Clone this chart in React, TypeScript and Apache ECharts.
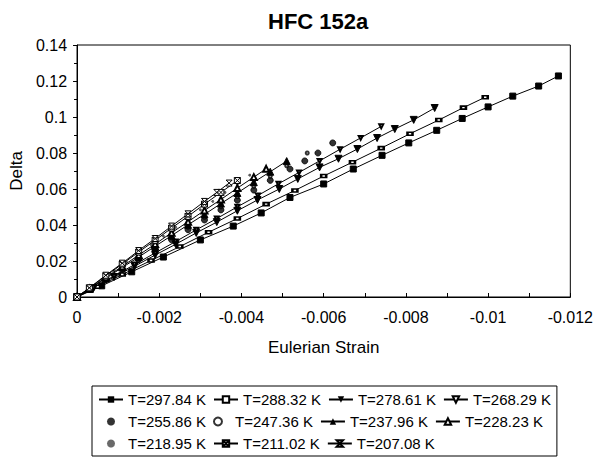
import React, { useEffect, useRef } from "react";
import * as echarts from "echarts";

const FONT = "'Liberation Sans', Arial, sans-serif";

const seriesNames = [
  "T=297.84 K", "T=288.32 K", "T=278.61 K", "T=268.29 K",
  "T=255.86 K", "T=247.36 K", "T=237.96 K", "T=228.23 K",
  "T=218.95 K", "T=211.02 K", "T=207.08 K",
];

const xTicks = [0, -0.002, -0.004, -0.006, -0.008, -0.01, -0.012];
const yTicks = [0, 0.02, 0.04, 0.06, 0.08, 0.1, 0.12, 0.14];

// [Eulerian strain, Delta]
const s297 = [
  [0, 0], [-0.0006, 0.0062], [-0.00133, 0.014], [-0.0021, 0.0222], [-0.003, 0.0317],
  [-0.0038, 0.0394], [-0.00448, 0.0467], [-0.00518, 0.0553], [-0.006, 0.0628],
  [-0.00672, 0.0711], [-0.00742, 0.0787], [-0.00807, 0.0856], [-0.00875, 0.0926],
  [-0.00937, 0.0992], [-0.01, 0.1056], [-0.0106, 0.1116], [-0.01123, 0.1172], [-0.01171, 0.1228],
];
const s288 = [
  [0, 0], [-0.0005, 0.0057], [-0.0011, 0.0125], [-0.0018, 0.0203], [-0.0025, 0.028],
  [-0.0032, 0.036], [-0.0039, 0.0436], [-0.0046, 0.0516], [-0.0053, 0.0592],
  [-0.006, 0.0672], [-0.0067, 0.0749], [-0.0074, 0.0827], [-0.0081, 0.0907],
  [-0.0088, 0.0983], [-0.0094, 0.1052], [-0.00993, 0.111],
];
const s278 = [
  [0, 0], [-0.0004, 0.0049], [-0.0009, 0.0111], [-0.0014, 0.0171], [-0.0019, 0.0233],
  [-0.0024, 0.0293], [-0.0029, 0.0356], [-0.0034, 0.0416], [-0.0039, 0.0479],
  [-0.00439, 0.0539], [-0.00492, 0.06], [-0.00537, 0.0656], [-0.0059, 0.072],
  [-0.00636, 0.0768], [-0.00682, 0.0822], [-0.0073, 0.0883], [-0.00773, 0.0933],
  [-0.00819, 0.0984], [-0.0087, 0.105],
];
const s268 = [
  [0, 0], [-0.0004, 0.0052], [-0.0009, 0.0117], [-0.0014, 0.018], [-0.0019, 0.0245],
  [-0.0024, 0.0308], [-0.0029, 0.0373], [-0.0034, 0.0436], [-0.0039, 0.0501],
  [-0.0044, 0.0564], [-0.0049, 0.0629], [-0.0054, 0.0692], [-0.0059, 0.0756],
  [-0.0064, 0.0821], [-0.0069, 0.0884], [-0.0074, 0.0948],
];
const s255 = [
  [0, 0], [-0.0003, 0.0042], [-0.0007, 0.0097], [-0.0011, 0.0153], [-0.0015, 0.0208],
  [-0.0019, 0.0264], [-0.0023, 0.0318], [-0.0027, 0.0374], [-0.0031, 0.0428],
  [-0.0035, 0.0484], [-0.0039, 0.0538], [-0.0043, 0.0594], [-0.0047, 0.0648],
  [-0.00518, 0.0711], [-0.00554, 0.0756], [-0.00586, 0.08], [-0.00622, 0.0856],
];
const s247 = [
  [0, 0], [-0.0003, 0.0043], [-0.0007, 0.01], [-0.0011, 0.0158], [-0.0015, 0.0214],
  [-0.0019, 0.0272], [-0.0023, 0.0329], [-0.0027, 0.0387], [-0.0031, 0.0443],
  [-0.0035, 0.0501], [-0.0039, 0.0557], [-0.0043, 0.0615], [-0.0047, 0.0671],
  [-0.0051, 0.0729], [-0.0056, 0.08],
];
const s237 = [
  [0, 0], [-0.0003, 0.0045], [-0.0007, 0.0104], [-0.0011, 0.0164], [-0.0015, 0.0222],
  [-0.0019, 0.0282], [-0.0023, 0.0341], [-0.0027, 0.0401], [-0.0031, 0.0459],
  [-0.0035, 0.0519], [-0.0039, 0.0578], [-0.0043, 0.0638], [-0.0047, 0.0696], [-0.0051, 0.0755],
];
const s228 = [
  [0, 0], [-0.0003, 0.0046], [-0.0007, 0.0109], [-0.0011, 0.017], [-0.0015, 0.0233],
  [-0.0019, 0.0294], [-0.0023, 0.0357], [-0.0027, 0.0418], [-0.0031, 0.0481],
  [-0.0035, 0.0542], [-0.0039, 0.0605], [-0.0043, 0.0666], [-0.0046, 0.0712],
];
const s218 = [
  [0, 0], [-0.0003, 0.0048], [-0.0006, 0.0098], [-0.0009, 0.0145], [-0.0012, 0.0194],
  [-0.0015, 0.0242], [-0.0018, 0.0291], [-0.0021, 0.0338], [-0.0024, 0.0387],
  [-0.0027, 0.0435], [-0.003, 0.0484], [-0.0033, 0.0531], [-0.0036, 0.0581],
  [-0.0039, 0.0628], [-0.0042, 0.0677],
];
const s211 = [
  [0, 0], [-0.0003, 0.005], [-0.0007, 0.0117], [-0.0011, 0.0183], [-0.0015, 0.025],
  [-0.0019, 0.0315], [-0.0023, 0.0383], [-0.0027, 0.0448], [-0.0031, 0.0516],
  [-0.0035, 0.0581], [-0.0039, 0.0647],
];
const s207 = [
  [0, 0], [-0.0003, 0.0051], [-0.0007, 0.0121], [-0.0011, 0.0188], [-0.0015, 0.0258],
  [-0.0019, 0.0325], [-0.0023, 0.0394], [-0.0027, 0.0462], [-0.0031, 0.0531],
  [-0.0034, 0.0581], [-0.0037, 0.0633],
];

const seriesData = [s297, s288, s278, s268, s255, s247, s237, s228, s218, s211, s207];

const BOX_X = "path://M0,0H10V10H0Z M0,0L10,10 M10,0L0,10";
const HOURGLASS = "path://M0,0H10L0,10H10Z";

type Style = { type: string; symbol: string; size: any; rotate?: number; hollow?: boolean; color?: string };
const styles: Style[] = [
  { type: "line", symbol: "rect", size: 6 },
  { type: "line", symbol: "emptyRect", size: [5, 3] },
  { type: "line", symbol: "triangle", size: 7, rotate: 180 },
  { type: "line", symbol: "emptyTriangle", size: 4, rotate: 180 },
  { type: "scatter", symbol: "circle", size: 6 },
  { type: "scatter", symbol: "emptyCircle", size: 3 },
  { type: "line", symbol: "triangle", size: 7 },
  { type: "line", symbol: "emptyTriangle", size: 6 },
  { type: "scatter", symbol: "circle", size: 2, color: "#444" },
  { type: "line", symbol: BOX_X, size: 6, hollow: true },
  { type: "line", symbol: HOURGLASS, size: 6, hollow: true },
];

export default function App() {
  const ref = useRef<HTMLDivElement>(null);
  useEffect(() => {
    if (!ref.current) return;
    const chart = echarts.init(ref.current, undefined, { renderer: "svg" });
    const series = seriesNames.map((name, i) => {
      const st = styles[i];
      const color = st.color || "#000";
      const s: any = {
        name,
        type: st.type,
        data: seriesData[i],
        symbol: st.symbol,
        symbolSize: st.size,
        symbolRotate: st.rotate || 0,
        itemStyle: st.hollow
          ? { color: "#fff", borderColor: "#000", borderWidth: 1 }
          : { color, borderColor: color },
      };
      if (st.type === "line") {
        s.showSymbol = true;
        s.lineStyle = { color: "#000", width: 1 };
        s.emphasis = { disabled: true };
      }
      return s;
    });
    chart.setOption({
      animation: false,
      backgroundColor: "#fff",
      title: {
        text: "HFC 152a",
        left: 263,
        top: 5,
        textStyle: { fontFamily: FONT, fontSize: 22, fontWeight: "bold", color: "#000" },
      },
      grid: {
        left: 75, right: 23, top: 45, bottom: 165,
        show: true, borderColor: "#000", borderWidth: 1,
      },
      legend: {
        data: seriesNames,
        left: 92,
        top: 386,
        width: 470,
        padding: [6, 6, 5, 6],
        itemWidth: 24,
        itemHeight: 8,
        itemGap: 7,
        borderColor: "#000",
        borderWidth: 1,
        textStyle: { fontFamily: FONT, fontSize: 15, color: "#000" },
      },
      xAxis: {
        type: "value",
        min: xTicks[xTicks.length - 1],
        max: xTicks[0],
        interval: 0.001,
        inverse: true,
        name: "Eulerian Strain",
        nameLocation: "middle",
        nameGap: 42,
        nameTextStyle: { fontFamily: FONT, fontSize: 17, color: "#000" },
        axisLine: { lineStyle: { color: "#000", width: 1 } },
        axisTick: { inside: true, length: 4, lineStyle: { color: "#000" } },
        axisLabel: {
          margin: 12,
          fontFamily: FONT, fontSize: 16, color: "#000",
          formatter: (v: number) => {
            const k = Math.round(v / 0.001);
            if (k % 2 !== 0) return "";
            return String(parseFloat(v.toFixed(3)));
          },
        },
        splitLine: { show: false },
      },
      yAxis: {
        type: "value",
        min: yTicks[0],
        max: yTicks[yTicks.length - 1],
        interval: 0.02,
        name: "Delta",
        nameLocation: "middle",
        nameGap: 45,
        nameTextStyle: { fontFamily: FONT, fontSize: 17, color: "#000" },
        axisLine: { show: true, lineStyle: { color: "#000", width: 1 } },
        axisTick: { show: true, length: 4, lineStyle: { color: "#000" } },
        minorTick: { show: true, splitNumber: 2, length: 3, lineStyle: { color: "#000" } },
        axisLabel: {
          margin: 10,
          fontFamily: FONT, fontSize: 16, color: "#000",
          formatter: (v: number) => String(parseFloat(v.toFixed(2))),
        },
        splitLine: { show: false },
      },
      series,
    });
    return () => chart.dispose();
  }, []);
  return (
    <div
      ref={ref}
      style={{ position: "absolute", left: 0, top: 0, width: 596, height: 462, background: "#fff" }}
    />
  );
}
